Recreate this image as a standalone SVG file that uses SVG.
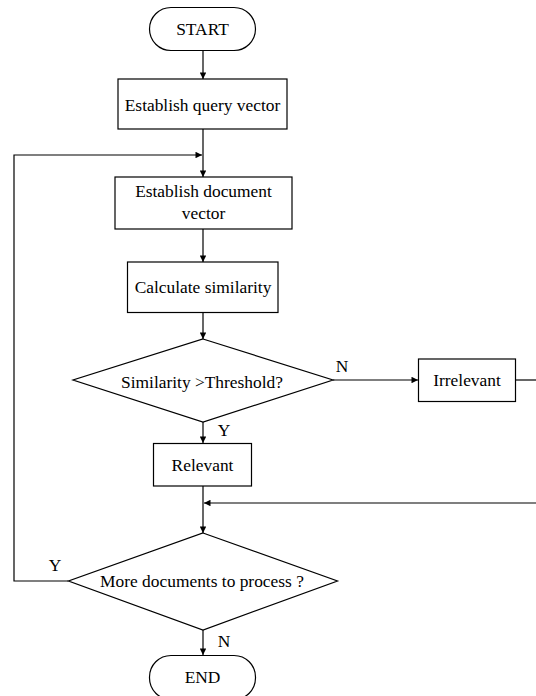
<svg xmlns="http://www.w3.org/2000/svg" width="536" height="696" viewBox="0 0 536 696">
<style>
.n{fill:#fff;stroke:#000;stroke-width:1.2}
.t{font-family:'Liberation Serif','Times New Roman',Times,'DejaVu Serif',serif;font-size:17.4px;fill:#000;text-anchor:middle}
.c{fill:none;stroke:#000;stroke-width:1.2}
</style>
<defs>
<marker id="a" viewBox="0 0 10 10" refX="10" refY="5" markerWidth="7" markerHeight="6.5" markerUnits="userSpaceOnUse" orient="auto">
<path d="M0,0L10,5L0,10z" fill="#000"/>
</marker>
</defs>
<rect width="536" height="696" fill="#fff"/>
<g id="connectors">
<path class="c" d="M203,50V79" marker-end="url(#a)"/>
<path class="c" d="M203,129V177" marker-end="url(#a)"/>
<path class="c" d="M68.5,581H14V155H202" marker-end="url(#a)"/>
<path class="c" d="M203,229V262" marker-end="url(#a)"/>
<path class="c" d="M203,312V339" marker-end="url(#a)"/>
<path class="c" d="M333,380H418" marker-end="url(#a)"/>
<path class="c" d="M516,380H537"/>
<path class="c" d="M203,422V443" marker-end="url(#a)"/>
<path class="c" d="M203,486V533" marker-end="url(#a)"/>
<path class="c" d="M537,503H204" marker-end="url(#a)"/>
<path class="c" d="M203,630V655" marker-end="url(#a)"/>
<text class="t" x="342" y="372">N</text>
<text class="t" x="224" y="436">Y</text>
<text class="t" x="55" y="571">Y</text>
<text class="t" x="224" y="647">N</text>
</g>
<g id="start">
<rect class="n" x="149.5" y="7.5" width="106" height="43" rx="21.5"/>
<text class="t" x="202.5" y="35">START</text>
</g>
<g id="query">
<rect class="n" x="118" y="79" width="169" height="50"/>
<text class="t" x="202.5" y="110.5">Establish query vector</text>
</g>
<g id="document">
<rect class="n" x="115" y="177" width="177" height="52"/>
<text class="t" x="203.5" y="197">Establish document</text>
<text class="t" x="203.5" y="218.5">vector</text>
</g>
<g id="similarity">
<rect class="n" x="127.5" y="262" width="150.5" height="50.5"/>
<text class="t" x="203" y="293">Calculate similarity</text>
</g>
<g id="threshold">
<polygon class="n" points="203,339 333,380 203,422 73,380"/>
<text class="t" x="202" y="387.5">Similarity &gt;Threshold?</text>
</g>
<g id="irrelevant">
<rect class="n" x="418.5" y="359" width="97" height="42.5"/>
<text class="t" x="467" y="386">Irrelevant</text>
</g>
<g id="relevant">
<rect class="n" x="153.5" y="443.5" width="98" height="42.5"/>
<text class="t" x="202.5" y="470.5">Relevant</text>
</g>
<g id="more">
<polygon class="n" points="203,533 337.5,581 203,630 68.5,581"/>
<text class="t" x="202" y="587">More documents to process ?</text>
</g>
<g id="end">
<rect class="n" x="149.5" y="655.5" width="106" height="44" rx="21.5"/>
<text class="t" x="202.5" y="682.5">END</text>
</g>
</svg>
